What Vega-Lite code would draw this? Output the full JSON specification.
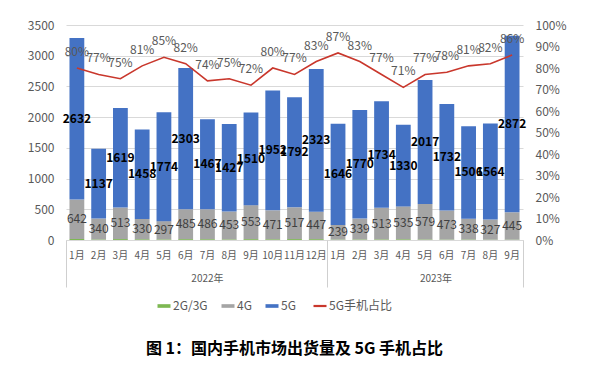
{
  "$schema": "https://vega.github.io/schema/vega-lite/v6.json",
  "width": 457,
  "height": 215,
  "padding": {"left": 27, "top": 19, "right": 5, "bottom": 5},
  "background": "white",
  "config": {
    "font": "Noto Sans CJK SC",
    "view": {"stroke": null},
    "axis": {"labelFont": "Noto Sans CJK SC", "labelColor": "#595959", "grid": false, "title": null}
  },
  "title": {"text": "图 1：国内手机市场出货量及 5G 手机占比", "orient": "bottom", "anchor": "middle", "fontSize": 16, "fontWeight": "bold", "font": "Noto Sans CJK SC", "color": "#000000", "offset": 29},
  "datasets": {
    "bars": [
      {"m": "2022-01", "series": "2G/3G", "v": 16}, {"m": "2022-01", "series": "4G", "v": 642}, {"m": "2022-01", "series": "5G", "v": 2632},
      {"m": "2022-02", "series": "2G/3G", "v": 9}, {"m": "2022-02", "series": "4G", "v": 340}, {"m": "2022-02", "series": "5G", "v": 1137},
      {"m": "2022-03", "series": "2G/3G", "v": 15}, {"m": "2022-03", "series": "4G", "v": 513}, {"m": "2022-03", "series": "5G", "v": 1619},
      {"m": "2022-04", "series": "2G/3G", "v": 12}, {"m": "2022-04", "series": "4G", "v": 330}, {"m": "2022-04", "series": "5G", "v": 1458},
      {"m": "2022-05", "series": "2G/3G", "v": 10}, {"m": "2022-05", "series": "4G", "v": 297}, {"m": "2022-05", "series": "5G", "v": 1774},
      {"m": "2022-06", "series": "2G/3G", "v": 14}, {"m": "2022-06", "series": "4G", "v": 485}, {"m": "2022-06", "series": "5G", "v": 2303},
      {"m": "2022-07", "series": "2G/3G", "v": 13}, {"m": "2022-07", "series": "4G", "v": 486}, {"m": "2022-07", "series": "5G", "v": 1467},
      {"m": "2022-08", "series": "2G/3G", "v": 10}, {"m": "2022-08", "series": "4G", "v": 453}, {"m": "2022-08", "series": "5G", "v": 1427},
      {"m": "2022-09", "series": "2G/3G", "v": 14}, {"m": "2022-09", "series": "4G", "v": 553}, {"m": "2022-09", "series": "5G", "v": 1510},
      {"m": "2022-10", "series": "2G/3G", "v": 12}, {"m": "2022-10", "series": "4G", "v": 471}, {"m": "2022-10", "series": "5G", "v": 1952},
      {"m": "2022-11", "series": "2G/3G", "v": 15}, {"m": "2022-11", "series": "4G", "v": 517}, {"m": "2022-11", "series": "5G", "v": 1792},
      {"m": "2022-12", "series": "2G/3G", "v": 14}, {"m": "2022-12", "series": "4G", "v": 447}, {"m": "2022-12", "series": "5G", "v": 2323},
      {"m": "2023-01", "series": "2G/3G", "v": 7}, {"m": "2023-01", "series": "4G", "v": 239}, {"m": "2023-01", "series": "5G", "v": 1646},
      {"m": "2023-02", "series": "2G/3G", "v": 9}, {"m": "2023-02", "series": "4G", "v": 339}, {"m": "2023-02", "series": "5G", "v": 1770},
      {"m": "2023-03", "series": "2G/3G", "v": 10}, {"m": "2023-03", "series": "4G", "v": 513}, {"m": "2023-03", "series": "5G", "v": 1734},
      {"m": "2023-04", "series": "2G/3G", "v": 12}, {"m": "2023-04", "series": "4G", "v": 535}, {"m": "2023-04", "series": "5G", "v": 1330},
      {"m": "2023-05", "series": "2G/3G", "v": 9}, {"m": "2023-05", "series": "4G", "v": 579}, {"m": "2023-05", "series": "5G", "v": 2017},
      {"m": "2023-06", "series": "2G/3G", "v": 7}, {"m": "2023-06", "series": "4G", "v": 473}, {"m": "2023-06", "series": "5G", "v": 1732},
      {"m": "2023-07", "series": "2G/3G", "v": 8}, {"m": "2023-07", "series": "4G", "v": 338}, {"m": "2023-07", "series": "5G", "v": 1506},
      {"m": "2023-08", "series": "2G/3G", "v": 6}, {"m": "2023-08", "series": "4G", "v": 327}, {"m": "2023-08", "series": "5G", "v": 1564},
      {"m": "2023-09", "series": "2G/3G", "v": 6}, {"m": "2023-09", "series": "4G", "v": 445}, {"m": "2023-09", "series": "5G", "v": 2872}
    ],
    "share": [
      {"m": "2022-01", "p": 0.80}, {"m": "2022-02", "p": 0.77}, {"m": "2022-03", "p": 0.75}, {"m": "2022-04", "p": 0.81},
      {"m": "2022-05", "p": 0.85}, {"m": "2022-06", "p": 0.82}, {"m": "2022-07", "p": 0.74}, {"m": "2022-08", "p": 0.75},
      {"m": "2022-09", "p": 0.72}, {"m": "2022-10", "p": 0.80}, {"m": "2022-11", "p": 0.77}, {"m": "2022-12", "p": 0.83},
      {"m": "2023-01", "p": 0.87}, {"m": "2023-02", "p": 0.83}, {"m": "2023-03", "p": 0.77}, {"m": "2023-04", "p": 0.71},
      {"m": "2023-05", "p": 0.77}, {"m": "2023-06", "p": 0.78}, {"m": "2023-07", "p": 0.81}, {"m": "2023-08", "p": 0.82},
      {"m": "2023-09", "p": 0.86}
    ]
  },
  "resolve": {"scale": {"y": "independent"}, "axis": {"x": "independent", "y": "independent"}},
  "layer": [
    {
      "data": {"name": "bars"},
      "mark": {"type": "bar", "width": {"band": 0.68}},
      "encoding": {
        "x": {"field": "m", "type": "ordinal", "scale": {"paddingInner": 0, "paddingOuter": 0},
          "axis": {"orient": "bottom", "labelExpr": "toNumber(slice(datum.value, 5)) + '月'", "labelAngle": 0, "labelFontSize": 10, "labelPadding": 10, "labelOverlap": false, "domain": true, "domainColor": "#D9D9D9", "ticks": false}},
        "y": {"field": "v", "type": "quantitative", "stack": "zero", "scale": {"domain": [0, 3500], "nice": false},
          "axis": {"orient": "left", "format": "d", "values": [0, 500, 1000, 1500, 2000, 2500, 3000, 3500], "grid": true, "gridColor": "#D9D9D9", "ticks": false, "domain": false, "labelFontSize": 12, "labelPadding": 12}},
        "order": {"field": "series", "type": "ordinal", "sort": "ascending"},
        "color": {"field": "series", "type": "nominal",
          "scale": {"domain": ["2G/3G", "4G", "5G", "5G手机占比"], "range": ["#7DB852", "#A5A5A5", "#4472C4", "#C9372C"]},
          "legend": {"orient": "none", "legendX": 92, "legendY": 275, "direction": "horizontal", "title": null,
            "labelFont": "Noto Sans CJK SC", "labelFontSize": 12, "labelColor": "#595959",
            "columnPadding": 13, "labelOffset": 3, "symbolSize": 169, "symbolType": "M-1,-0.28H1V0.28H-1Z",
            "encode": {"symbols": {"update": {
              "shape": {"signal": "datum.value === '5G手机占比' ? 'M-1,0H1' : 'M-1,-0.28H1V0.28H-1Z'"},
              "fill": {"scale": "color", "field": "value"},
              "stroke": {"scale": "color", "field": "value"},
              "strokeWidth": {"signal": "datum.value === '5G手机占比' ? 2.2 : 0"},
              "opacity": {"value": 1}
            }}}}}
      }
    },
    {
      "data": {"name": "bars"},
      "mark": {"type": "text", "fontSize": 12, "color": "#404040", "baseline": "middle"},
      "encoding": {
        "x": {"field": "m", "type": "ordinal",
          "axis": {"orient": "bottom", "values": ["2022-01", "2023-01"], "bandPosition": 0, "labels": false, "ticks": true, "tickSize": 47, "tickColor": "#CFCFCF", "tickWidth": 1, "tickOpacity": 1, "domain": false}},
        "y": {"field": "v", "type": "quantitative", "stack": "zero", "bandPosition": 0.5, "scale": {"domain": [0, 3500], "nice": false}, "axis": null},
        "order": {"field": "series", "type": "ordinal", "sort": "ascending"},
        "detail": {"field": "series"},
        "text": {"condition": {"test": "datum.series === '4G'", "field": "v", "type": "quantitative"}, "value": ""}
      }
    },
    {
      "data": {"name": "bars"},
      "mark": {"type": "text", "fontSize": 12, "fontWeight": "bold", "color": "#000000", "baseline": "middle"},
      "encoding": {
        "x": {"field": "m", "type": "ordinal",
          "axis": {"orient": "bottom", "values": ["2022-07", "2023-05"], "bandPosition": 0, "labelExpr": "datum.value === '2022-07' ? '2022年' : '2023年'", "labelFontSize": 10, "labelPadding": 33, "labelAngle": 0, "labelOffset": {"condition": {"test": "datum.value === '2023-05'", "value": 10.9}, "value": 0}, "ticks": false, "domain": false}},
        "y": {"field": "v", "type": "quantitative", "stack": "zero", "bandPosition": 0.5, "scale": {"domain": [0, 3500], "nice": false}, "axis": null},
        "order": {"field": "series", "type": "ordinal", "sort": "ascending"},
        "detail": {"field": "series"},
        "text": {"condition": {"test": "datum.series === '5G'", "field": "v", "type": "quantitative"}, "value": ""}
      }
    },
    {
      "data": {"name": "share"},
      "mark": {"type": "line", "strokeWidth": 1.6},
      "encoding": {
        "x": {"field": "m", "type": "ordinal",
          "axis": {"orient": "bottom", "values": ["2023-09"], "bandPosition": 1, "labels": false, "ticks": true, "tickSize": 47, "tickColor": "#CFCFCF", "tickWidth": 1, "tickOpacity": 1, "domain": false}},
        "y": {"field": "p", "type": "quantitative", "scale": {"domain": [0, 1], "nice": false},
          "axis": {"orient": "right", "format": ".0%", "values": [0, 0.1, 0.2, 0.3, 0.4, 0.5, 0.6, 0.7, 0.8, 0.9, 1], "ticks": false, "domain": false, "labelFontSize": 12, "labelPadding": 12}},
        "color": {"datum": "5G手机占比", "legend": null}
      }
    },
    {
      "data": {"name": "share"},
      "mark": {"type": "text", "fontSize": 12, "color": "#595959", "baseline": "middle", "dy": -16},
      "encoding": {
        "x": {"field": "m", "type": "ordinal", "axis": null},
        "y": {"field": "p", "type": "quantitative", "scale": {"domain": [0, 1], "nice": false}, "axis": null},
        "text": {"field": "p", "type": "quantitative", "format": ".0%"}
      }
    }
  ]
}
